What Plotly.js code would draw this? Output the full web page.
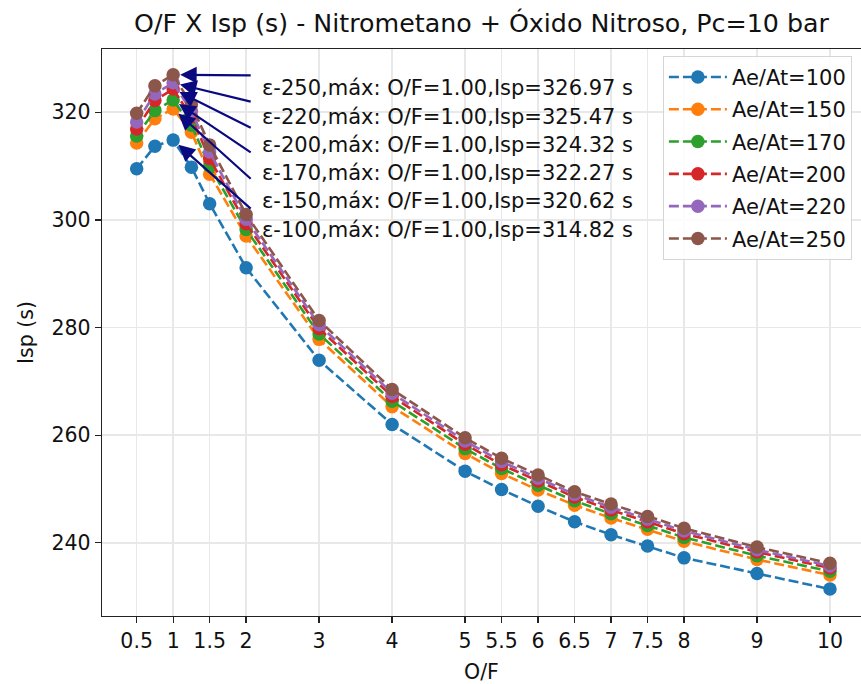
<!DOCTYPE html>
<html>
<head>
<meta charset="utf-8">
<script src="https://cdn.plot.ly/plotly-3.0.1.min.js"></script>
<style>html,body{margin:0;padding:0;background:#fff;}#chart{width:861px;height:684px;}</style>
</head>
<body>
<div id="chart"></div>
<script>
const OF = [0.5, 0.75, 1, 1.25, 1.5, 2, 3, 4, 5, 5.5, 6, 6.5, 7, 7.5, 8, 9, 10];
const isp100 = [309.5, 313.7, 314.82, 309.8, 303.0, 291.1, 273.9, 262.0, 253.3, 249.9, 246.8, 243.9, 241.5, 239.4, 237.2, 234.3, 231.4];
const isp150 = [314.3, 318.8, 320.62, 316.3, 308.5, 297.0, 277.8, 265.3, 256.6, 252.9, 249.8, 247.0, 244.6, 242.5, 240.3, 236.9, 234.0];
const isp170 = [315.6, 320.3, 322.27, 317.6, 310.0, 298.2, 278.8, 266.3, 257.5, 253.8, 250.7, 247.8, 245.4, 243.2, 241.0, 237.6, 234.7];
const isp200 = [316.9, 322.2, 324.32, 319.1, 311.4, 299.3, 279.8, 267.2, 258.3, 254.5, 251.5, 248.5, 246.1, 243.9, 241.7, 238.3, 235.3];
const isp220 = [318.2, 323.4, 325.47, 320.2, 312.6, 300.1, 280.5, 267.8, 258.9, 255.1, 252.0, 249.0, 246.6, 244.4, 242.2, 238.7, 235.7];
const isp250 = [319.8, 324.9, 326.97, 321.4, 313.9, 301.0, 281.3, 268.5, 259.5, 255.7, 252.6, 249.5, 247.2, 244.9, 242.7, 239.2, 236.2];

const ratios = [100, 150, 170, 200, 220, 250];
const seriesList = [isp100, isp150, isp170, isp200, isp220, isp250];
const colors = ['#1f77b4', '#ff7f0e', '#2ca02c', '#d62728', '#9467bd', '#8c564b'];
const xTicks = [0.5, 1, 1.5, 2, 3, 4, 5, 5.5, 6, 6.5, 7, 7.5, 8, 9, 10];
const yTicks = [240, 260, 280, 300, 320];

// annotation layout (text rows and arrow tails), top row = largest ratio
const annotOrder = [5, 4, 3, 2, 1, 0];
const textY = [324.44, 319.17, 313.89, 308.7, 303.43, 298.15];
const tailY = [326.85, 321.9, 316.98, 312.35, 307.4, 301.85];
const textX = 2.19;
const tailX = 2.083;

const FONT = 'DejaVu Sans, Verdana, sans-serif';

const traces = seriesList.map((s, i) => ({
  x: OF, y: s, type: 'scatter', mode: 'lines+markers',
  name: 'Ae/At=' + ratios[i],
  line: {color: colors[i], width: 2.6, dash: '10px,4px'},
  marker: {color: colors[i], size: 13.5},
  legendgroup: 'g' + i
}));

const annotations = [];
annotOrder.forEach((idx, row) => {
  const s = seriesList[idx];
  let mi = 0;
  for (let k = 1; k < s.length; k++) if (s[k] > s[mi]) mi = k;
  annotations.push({
    x: OF[mi], y: s[mi], xref: 'x', yref: 'y',
    ax: tailX, ay: tailY[row], axref: 'x', ayref: 'y',
    text: '', showarrow: true, arrowhead: 2, arrowsize: 1.5, arrowwidth: 2.2,
    arrowcolor: '#0a0a80', standoff: 7
  });
  annotations.push({
    x: textX, y: textY[row], xref: 'x', yref: 'y',
    xanchor: 'left', yanchor: 'middle', showarrow: false,
    text: '\u03b5-' + ratios[idx] + ',máx: O/F=' + OF[mi].toFixed(2) + ',Isp=' + s[mi].toFixed(2) + ' s',
    font: {family: FONT, size: 21, color: '#111'}
  });
});

const layout = {
  width: 861, height: 684,
  margin: {l: 102, r: 0, t: 49, b: 68, pad: 0},
  paper_bgcolor: '#fff', plot_bgcolor: '#fff',
  font: {family: FONT, color: '#111'},
  title: {text: 'O/F X Isp (s) - Nitrometano + Óxido Nitroso, Pc=10 bar', xref: 'paper', x: 0.5, xanchor: 'center', yref: 'container', y: 0.966, yanchor: 'middle', font: {family: FONT, size: 25.3, color: '#111'}},
  xaxis: {
    range: [0.025, 10.425], tickvals: xTicks, ticktext: xTicks.map(String),
    showgrid: true, gridcolor: '#e8e8e8', gridwidth: 1.5,
    showline: true, linecolor: '#222', linewidth: 1.3, mirror: true,
    ticks: 'outside', ticklen: 6, tickwidth: 1.3, tickcolor: '#222',
    tickfont: {family: FONT, size: 20.5, color: '#111'}, zeroline: false,
    title: {text: 'O/F', font: {family: FONT, size: 20.5, color: '#111'}, standoff: 12}
  },
  yaxis: {
    range: [226.4, 331.75], tickvals: yTicks,
    showgrid: true, gridcolor: '#e8e8e8', gridwidth: 1.5,
    showline: true, linecolor: '#222', linewidth: 1.3, mirror: false,
    ticks: 'outside', ticklen: 6, tickwidth: 1.3, tickcolor: '#222',
    tickfont: {family: FONT, size: 20.5, color: '#111'}, zeroline: false,
    title: {text: 'Isp (s)', font: {family: FONT, size: 20.5, color: '#111'}, standoff: 12}
  },
  legend: {
    x: 0.739, xanchor: 'left', y: 0.988, yanchor: 'top',
    bgcolor: 'rgba(255,255,255,0.85)', bordercolor: '#d5d5d5', borderwidth: 1,
    font: {family: FONT, size: 21, color: '#111'},
    traceorder: 'grouped', tracegroupgap: 2, itemwidth: 58
  },
  annotations: annotations,
  showlegend: true
};

Plotly.newPlot('chart', traces, layout, {displayModeBar: false, staticPlot: true});
</script>
</body>
</html>
